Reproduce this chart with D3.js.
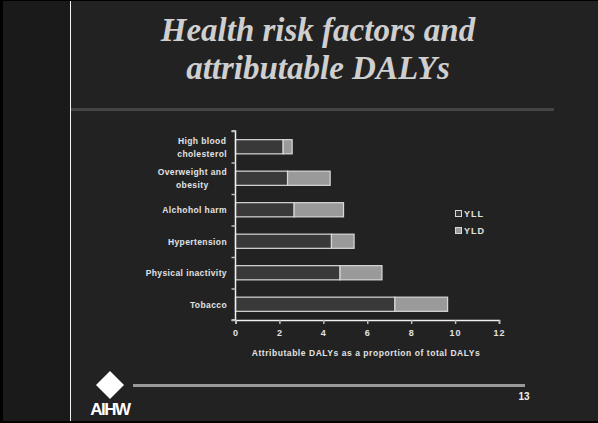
<!DOCTYPE html>
<html>
<head>
<meta charset="utf-8">
<script src="https://cdn.jsdelivr.net/npm/d3@7"></script>
<style>
  html, body { margin: 0; padding: 0; background: #000; }
  svg { display: block; }
</style>
</head>
<body>
<svg id="slide" width="598" height="423"></svg>
<script>
// Risk factors, top to bottom, as lines of the category label
const categories = [
  ["High blood", "cholesterol"],
  ["Overweight and", "obesity"],
  ["Alchohol harm"],
  ["Hypertension"],
  ["Physical inactivity"],
  ["Tobacco"]
];
// Attributable DALYs as a proportion of total DALYs (%)
const yllValues = [2.17, 2.37, 2.67, 4.37, 4.76, 7.26];
const yldValues = [0.41, 1.94, 2.25, 1.03, 1.91, 2.40];
const seriesNames = ["YLL", "YLD"];
const xTicks = [0, 2, 4, 6, 8, 10, 12];
const titleLines = ["Health risk factors and", "attributable DALYs"];
const axisTitle = "Attributable DALYs as a proportion of total DALYs";
const slideNumber = "13";

const svg = d3.select("#slide");
const W = 598, H = 423;

// Slide frame: black edge, darker left strip, main panel
svg.append("rect").attr("x", 0).attr("y", 0).attr("width", W).attr("height", H).attr("fill", "#000");
svg.append("rect").attr("x", 3).attr("y", 1).attr("width", 68).attr("height", 420).attr("fill", "#1a1a1a");
svg.append("rect").attr("x", 71).attr("y", 1).attr("width", W - 71).attr("height", 420).attr("fill", "#222");
svg.append("line").attr("x1", 70.5).attr("x2", 70.5).attr("y1", 1).attr("y2", 421)
  .attr("stroke", "#f4f4f4").attr("stroke-width", 1);

// Title
svg.append("g").selectAll("text").data(titleLines).join("text")
  .attr("x", 318).attr("y", (d, i) => 41 + i * 38)
  .attr("text-anchor", "middle")
  .attr("font-family", "'Liberation Serif', 'Times New Roman', serif")
  .attr("font-style", "italic").attr("font-weight", "bold")
  .attr("font-size", 33).attr("fill", "#cfcfcf")
  .text(d => d);

// Rule under the title
svg.append("rect").attr("x", 71).attr("y", 108).attr("width", 483).attr("height", 3).attr("fill", "#444");

// Chart
const x = d3.scaleLinear().domain([0, 12]).range([235.5, 499]);
const y = d3.scaleBand().domain(d3.range(categories.length)).range([131, 320])
  .paddingInner(0.55).paddingOuter(0.275);

const labelFont = "'Liberation Sans', Arial, sans-serif";
const textCol = "#e2e2e2";

const stackData = categories.map((c, i) => ({ i, YLL: yllValues[i], YLD: yldValues[i] }));
const stacked = d3.stack().keys(seriesNames)(stackData);
const fills = { YLL: "#393939", YLD: "#9a9a9a" };

const chart = svg.append("g");
chart.selectAll("g.series").data(stacked).join("g").attr("class", "series")
  .attr("fill", d => fills[d.key])
  .selectAll("rect").data(d => d).join("rect")
  .attr("x", d => x(d[0]))
  .attr("y", d => y(d.data.i))
  .attr("width", d => x(d[1]) - x(d[0]))
  .attr("height", y.bandwidth())
  .attr("stroke", "#d8d8d8").attr("stroke-width", 1.2);

// Axes
const xAxis = chart.append("g").attr("transform", "translate(0,320)")
  .call(d3.axisBottom(x).tickValues(xTicks).tickSize(4).tickPadding(6).tickFormat(d3.format("d")));
const yAxis = chart.append("g").attr("transform", "translate(235.5,0)")
  .call(d3.axisLeft(d3.scaleLinear().domain([0, categories.length]).range([131, 320]))
    .ticks(categories.length).tickSize(4).tickFormat(""));
[xAxis, yAxis].forEach(a => {
  a.select(".domain").attr("stroke", "#f0f0f0").attr("stroke-width", 1.5);
  a.selectAll(".tick line").attr("stroke", "#bbb").attr("stroke-width", 1.5);
  a.selectAll("text").attr("fill", textCol).attr("font-family", labelFont)
    .attr("font-weight", "bold").attr("font-size", 9).attr("letter-spacing", 1);
});
yAxis.select(".domain").attr("d", "M-4,131H0V320H-4");

// Category labels: each block's lines are centred, block right edge at a fixed x
const labelRight = 227;
categories.forEach((lines, i) => {
  const cy = y(i) + y.bandwidth() / 2;
  const g = chart.append("g");
  const texts = g.selectAll("text").data(lines).join("text")
    .attr("y", (d, k) => cy + 3.5 + (k - (lines.length - 1) / 2) * 13)
    .attr("text-anchor", "middle")
    .attr("font-family", labelFont).attr("font-weight", "bold")
    .attr("font-size", 8.5).attr("letter-spacing", 0.4)
    .attr("fill", textCol).text(d => d);
  let maxW = 0;
  texts.each(function () { maxW = Math.max(maxW, this.getComputedTextLength()); });
  texts.attr("x", labelRight - maxW / 2);
});

// Axis title
chart.append("text").attr("x", 366).attr("y", 356).attr("text-anchor", "middle")
  .attr("font-family", labelFont).attr("font-weight", "bold").attr("font-size", 8.5)
  .attr("letter-spacing", 0.55).attr("fill", textCol).text(axisTitle);

// Legend
const legend = chart.append("g").attr("transform", "translate(455,210)");
const li = legend.selectAll("g").data(seriesNames).join("g")
  .attr("transform", (d, i) => `translate(0,${i * 17})`);
li.append("rect").attr("x", 0.5).attr("y", 0.5).attr("width", 6).attr("height", 6)
  .attr("fill", d => fills[d]).attr("stroke", "#d8d8d8").attr("stroke-width", 1);
li.append("text").attr("x", 9).attr("y", 7).attr("font-family", labelFont)
  .attr("font-weight", "bold").attr("font-size", 9).attr("letter-spacing", 1)
  .attr("fill", textCol).text(d => d);

// Footer rule and slide number
svg.append("rect").attr("x", 133).attr("y", 384).attr("width", 392).attr("height", 3).attr("fill", "#9a9a9a");
svg.append("text").attr("x", 524).attr("y", 400).attr("text-anchor", "middle")
  .attr("font-family", labelFont).attr("font-weight", "bold").attr("font-size", 10)
  .attr("fill", "#eee").text(slideNumber);

// AIHW logo: white diamond above the wordmark
svg.append("path").attr("d", "M110,371 L124,385 L110,399 L96,385 Z").attr("fill", "#fff");
svg.append("text").attr("x", 110).attr("y", 415).attr("text-anchor", "middle")
  .attr("font-family", labelFont).attr("font-weight", "bold").attr("font-size", 17)
  .attr("letter-spacing", -1.5).attr("fill", "#fff").text("AIHW");
</script>
</body>
</html>
